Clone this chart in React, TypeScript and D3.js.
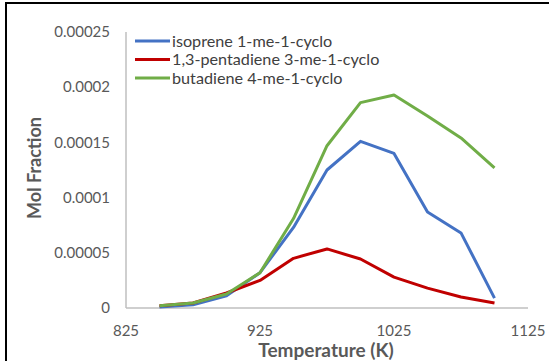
import React from 'react'
import * as d3 from 'd3'

const width = 549
const height = 361

// temperatures (K) where the mol fractions were sampled
const temps = [850, 875, 900, 925, 950, 975, 1000, 1025, 1050, 1075, 1100]

const isoprene = [0.000001, 0.000003, 0.000011, 0.000032, 0.000073, 0.000125, 0.000151, 0.00014, 0.000087, 0.000068, 0.000009]
const pentadiene = [0.000002, 0.0000045, 0.0000136, 0.000025, 0.000045, 0.0000535, 0.0000444, 0.000028, 0.000018, 0.00001, 0.0000045]
const butadiene = [0.000002, 0.0000045, 0.0000127, 0.000032, 0.000081, 0.000147, 0.000186, 0.000193, 0.000174, 0.000154, 0.000127]

const seriesNames = ['isoprene 1-me-1-cyclo', '1,3-pentadiene 3-me-1-cyclo', 'butadiene 4-me-1-cyclo']
const seriesValues = [isoprene, pentadiene, butadiene]
const colors = ['#4472c4', '#c00000', '#70ad47']

const xTicks = [825, 925, 1025, 1125]
const yTicks = [0, 0.00005, 0.0001, 0.00015, 0.0002, 0.00025]
const yTickLabels = ['0', '0.00005', '0.0001', '0.00015', '0.0002', '0.00025']

const font = 'Lato, "Open Sans", sans-serif'

const x = d3.scaleLinear().domain([825, 1125]).range([126, 528])
const y = d3.scaleLinear().domain([0, 0.00025]).range([308, 32])

const line = d3
    .line<number>()
    .x((d, i) => x(temps[i]))
    .y(d => y(d))

export default function App() {
    return (
        <svg
            width={width}
            height={height}
            style={{ position: 'absolute', left: 0, top: 0, background: '#fff' }}
        >
            <rect x={6} y={3} width={620} height={420} fill="#fff" stroke="#000" strokeWidth={2} />

            {/* axes */}
            <line x1={x(825)} x2={x(825)} y1={y(0.00025)} y2={y(0)} stroke="#bfbfbf" strokeWidth={1.5} />
            <line x1={x(825)} x2={x(1125)} y1={y(0)} y2={y(0)} stroke="#bfbfbf" strokeWidth={1.5} />

            {yTicks.map((t, i) => (
                <text
                    key={t}
                    x={110}
                    y={y(t)}
                    dy="0.35em"
                    textAnchor="end"
                    fontFamily={font}
                    fontSize={15}
                    fill="#595959"
                >
                    {yTickLabels[i]}
                </text>
            ))}
            {xTicks.map(t => (
                <text
                    key={t}
                    x={x(t)}
                    y={331}
                    dy="0.35em"
                    textAnchor="middle"
                    fontFamily={font}
                    fontSize={15}
                    fill="#595959"
                >
                    {t}
                </text>
            ))}

            {/* series */}
            {seriesValues.map((vals, i) => (
                <path
                    key={seriesNames[i]}
                    d={line(vals) || ''}
                    fill="none"
                    stroke={colors[i]}
                    strokeWidth={3}
                    strokeLinejoin="round"
                />
            ))}

            {/* legend */}
            {seriesNames.map((name, i) => (
                <g key={name} transform={`translate(135, ${41 + i * 18.5})`}>
                    <line x1={0} x2={35} y1={0} y2={0} stroke={colors[i]} strokeWidth={3} />
                    <text x={37} y={0} dy="0.35em" fontFamily={font} fontSize={16.2} fill="#404040">
                        {name}
                    </text>
                </g>
            ))}

            {/* axis titles */}
            <text
                x={326}
                y={350}
                dy="0.35em"
                textAnchor="middle"
                fontFamily={font}
                fontSize={19}
                fontWeight="bold"
                fill="#595959"
            >
                Temperature (K)
            </text>
            <text
                transform="translate(35, 168) rotate(-90)"
                dy="0.35em"
                textAnchor="middle"
                fontFamily={font}
                fontSize={18}
                fontWeight="bold"
                fill="#595959"
            >
                Mol Fraction
            </text>
        </svg>
    )
}
